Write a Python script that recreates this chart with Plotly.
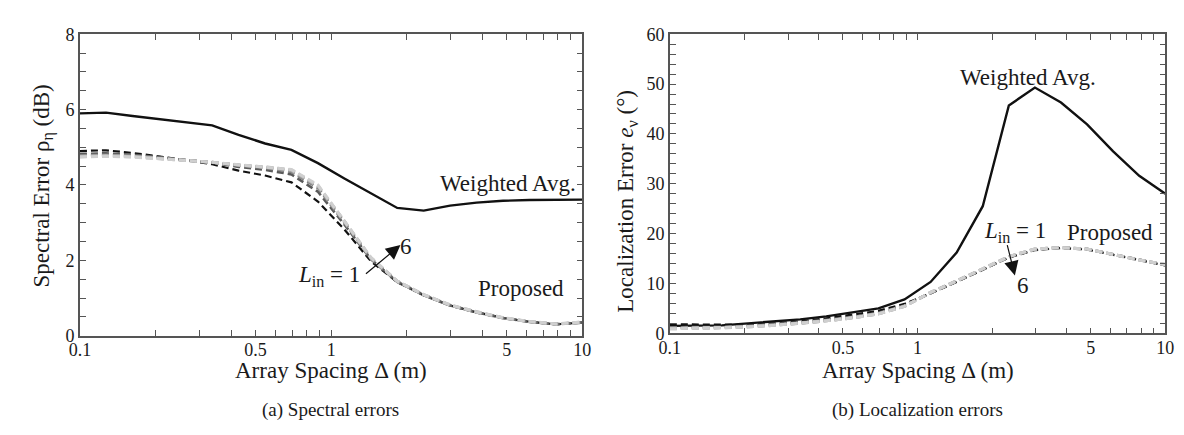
import plotly.graph_objects as go

# ---------------- data ----------------
DELTA = [0.1, 0.127, 0.162, 0.207, 0.264, 0.336, 0.428, 0.546, 0.695, 0.886,
         1.129, 1.438, 1.833, 2.336, 2.976, 3.793, 4.833, 6.158, 7.848, 10.0]

# (a) spectral error (dB)
spec_wavg = [5.90, 5.92, 5.83, 5.75, 5.67, 5.58, 5.33, 5.10, 4.93, 4.58,
             4.17, 3.77, 3.39, 3.32, 3.45, 3.53, 3.58, 3.60, 3.61, 3.61]
spec_L1 = [4.90, 4.92, 4.85, 4.76, 4.66, 4.55, 4.38, 4.25, 4.07, 3.56,
           2.82, 1.98, 1.42, 1.07, 0.80, 0.62, 0.47, 0.37, 0.30, 0.35]
spec_L2 = [4.82, 4.84, 4.80, 4.74, 4.66, 4.59, 4.48, 4.40, 4.28, 3.82,
           2.95, 2.03, 1.43, 1.08, 0.80, 0.62, 0.47, 0.37, 0.30, 0.35]
spec_L3 = [4.78, 4.80, 4.77, 4.72, 4.66, 4.60, 4.52, 4.45, 4.35, 3.92,
           3.00, 2.05, 1.44, 1.08, 0.81, 0.62, 0.47, 0.37, 0.31, 0.35]
spec_L4 = [4.76, 4.78, 4.76, 4.71, 4.65, 4.60, 4.53, 4.47, 4.38, 3.96,
           3.03, 2.06, 1.44, 1.08, 0.81, 0.62, 0.47, 0.37, 0.31, 0.35]
spec_L5 = [4.75, 4.77, 4.75, 4.70, 4.65, 4.60, 4.53, 4.48, 4.40, 3.98,
           3.04, 2.07, 1.45, 1.09, 0.81, 0.63, 0.47, 0.37, 0.31, 0.36]
spec_L6 = [4.74, 4.76, 4.74, 4.70, 4.65, 4.60, 4.54, 4.48, 4.41, 4.00,
           3.05, 2.08, 1.45, 1.09, 0.82, 0.63, 0.48, 0.38, 0.31, 0.36]

# (b) localization error (deg)
loc_wavg = [1.5, 1.5, 1.6, 2.0, 2.4, 2.8, 3.4, 4.2, 5.0, 6.8,
            10.3, 16.2, 25.5, 45.7, 49.3, 46.3, 41.9, 36.5, 31.6, 28.0]
loc_L1 = [1.8, 1.8, 1.7, 1.7, 2.0, 2.4, 3.0, 3.7, 4.5, 5.9,
          8.0, 10.3, 12.7, 15.2, 16.7, 17.1, 16.8, 15.8, 14.7, 13.6]
loc_L2 = [1.2, 1.2, 1.3, 1.5, 1.8, 2.2, 2.7, 3.3, 4.1, 5.6,
          8.1, 10.4, 12.8, 15.3, 16.8, 17.2, 16.9, 15.8, 14.7, 13.7]
loc_L3 = [1.1, 1.1, 1.2, 1.4, 1.7, 2.1, 2.6, 3.2, 4.0, 5.5,
          8.1, 10.5, 12.9, 15.3, 16.8, 17.2, 16.9, 15.8, 14.7, 13.7]
loc_L4 = [1.0, 1.0, 1.1, 1.3, 1.6, 2.0, 2.5, 3.1, 3.9, 5.4,
          8.2, 10.5, 12.9, 15.4, 16.9, 17.2, 16.9, 15.8, 14.7, 13.8]
loc_L5 = [0.9, 1.0, 1.1, 1.3, 1.6, 2.0, 2.5, 3.1, 3.9, 5.4,
          8.2, 10.5, 12.9, 15.4, 16.9, 17.2, 16.9, 15.8, 14.7, 13.8]
loc_L6 = [0.9, 1.0, 1.1, 1.3, 1.6, 2.0, 2.5, 3.1, 3.9, 5.4,
          8.2, 10.5, 12.9, 15.4, 16.9, 17.2, 16.9, 15.8, 14.7, 13.8]

X_TICKS = [0.1, 0.5, 1, 5, 10]
X_TICK_TEXT = ["0.1", "0.5", "1", "5", "10"]
X_MINOR = [0.2, 0.3, 0.4, 0.6, 0.7, 0.8, 0.9, 2, 3, 4, 6, 7, 8, 9]

L_COLORS = ["#111111", "#5a5a5a", "#808080", "#a0a0a0", "#b8b8b8", "#cfcfcf"]
L_WIDTHS = [2.2, 2.6, 2.8, 3.0, 3.0, 3.0]

W, H = 1184, 435
FONT = "Liberation Serif"
AX = "#555555"
TXT = "#1a1a1a"

fig = go.Figure()

spec_L = [spec_L1, spec_L2, spec_L3, spec_L4, spec_L5, spec_L6]
loc_L = [loc_L1, loc_L2, loc_L3, loc_L4, loc_L5, loc_L6]

fig.add_trace(go.Scatter(x=DELTA, y=spec_wavg, mode="lines",
                         line=dict(color="#111111", width=2.4),
                         xaxis="x", yaxis="y", showlegend=False))
for i, ys in enumerate(spec_L):
    fig.add_trace(go.Scatter(x=DELTA, y=ys, mode="lines",
                             line=dict(color=L_COLORS[i], width=L_WIDTHS[i], dash="7px,4px"),
                             xaxis="x", yaxis="y", showlegend=False))

fig.add_trace(go.Scatter(x=DELTA, y=loc_wavg, mode="lines",
                         line=dict(color="#111111", width=2.4),
                         xaxis="x2", yaxis="y2", showlegend=False))
for i, ys in enumerate(loc_L):
    fig.add_trace(go.Scatter(x=DELTA, y=ys, mode="lines",
                             line=dict(color=L_COLORS[i], width=L_WIDTHS[i], dash="7px,4px"),
                             xaxis="x2", yaxis="y2", showlegend=False))


def px_x(p):
    return p / W


def px_y(p):
    return 1 - p / H


def xaxis_cfg(x0, x1):
    return dict(
        type="log", range=[-1, 1], domain=[px_x(x0), px_x(x1)],
        tickvals=X_TICKS, ticktext=X_TICK_TEXT,
        ticks="inside", ticklen=6, tickwidth=1.2, tickcolor=AX,
        minor=dict(tickvals=X_MINOR, ticks="inside", ticklen=6, tickwidth=1.2, tickcolor=AX),
        showline=True, linecolor=AX, linewidth=1.5, mirror="ticks",
        showgrid=False, zeroline=False, ticklabelstandoff=-3,
        tickfont=dict(family=FONT, size=18, color=TXT),
    )


def yaxis_cfg(y0, y1, rng, dtick, minor_dtick, anchor):
    return dict(
        range=rng, domain=[px_y(y1), px_y(y0)], anchor=anchor,
        dtick=dtick, tick0=0,
        ticks="inside", ticklen=6, tickwidth=1.2, tickcolor=AX,
        minor=dict(dtick=minor_dtick, tick0=0, ticks="inside", ticklen=6, tickwidth=1.2, tickcolor=AX),
        showline=True, linecolor=AX, linewidth=1.5, mirror="ticks",
        showgrid=False, zeroline=False,
        tickfont=dict(family=FONT, size=18, color=TXT),
    )


fig.update_layout(
    width=W, height=H,
    margin=dict(l=0, r=0, t=0, b=0),
    paper_bgcolor="white", plot_bgcolor="white",
    font=dict(family=FONT, color=TXT),
    xaxis=dict(xaxis_cfg(62, 573), anchor="y"),
    yaxis=yaxis_cfg(17, 333, [0, 8], 2, 0.5, "x"),
    xaxis2=dict(xaxis_cfg(662, 1166), anchor="y2"),
    yaxis2=yaxis_cfg(17, 330.5, [0, 60], 10, 2, "x2"),
)


def txt(x, y, s, size=23, angle=0):
    fig.add_annotation(x=px_x(x), y=px_y(y), xref="paper", yref="paper",
                       text=s, showarrow=False, textangle=angle,
                       xanchor="center", yanchor="middle",
                       font=dict(family=FONT, size=size, color=TXT))


# axis titles and captions
txt(25, 176, "Spectral Error ρ<sub>η</sub> (dB)", 23, -90)
txt(619, 192, "Localization Error <i>e</i><sub>ν</sub> (°)", 23, -90)
txt(317, 370, "Array Spacing Δ (m)", 23)
txt(914, 370, "Array Spacing Δ (m)", 23)
txt(317, 411, "(a) Spectral errors", 19)
txt(914, 411, "(b) Localization errors", 19)

# in-plot labels (a)
txt(497, 173, "Weighted Avg.", 23)
txt(511, 284, "Proposed", 23)
txt(315, 270, "<i>L</i><sub>in</sub> = 1", 23)
txt(394, 239, "6", 23)
# in-plot labels (b)
txt(1026, 62, "Weighted Avg.", 23)
txt(1110, 225, "Proposed", 23)
txt(1013, 224, "<i>L</i><sub>in</sub> = 1", 23)
txt(1021, 280, "6", 23)

# arrows (tip in axis coords, tail offset in pixels)
fig.add_annotation(x=-1 + (388 - 62) / 255.5, y=(333 - 238) / 39.5, xref="x", yref="y",
                   ax=-36, ay=30, text="",
                   showarrow=True, arrowhead=2, arrowsize=2.4, arrowwidth=1.2, arrowcolor="#111")
fig.add_annotation(x=-1 + (1013 - 662) / 252, y=(330.5 - 270) / 5.22, xref="x2", yref="y2",
                   ax=-8, ay=-32, text="",
                   showarrow=True, arrowhead=2, arrowsize=2.4, arrowwidth=1.2, arrowcolor="#111")

fig.write_html("out.html")
